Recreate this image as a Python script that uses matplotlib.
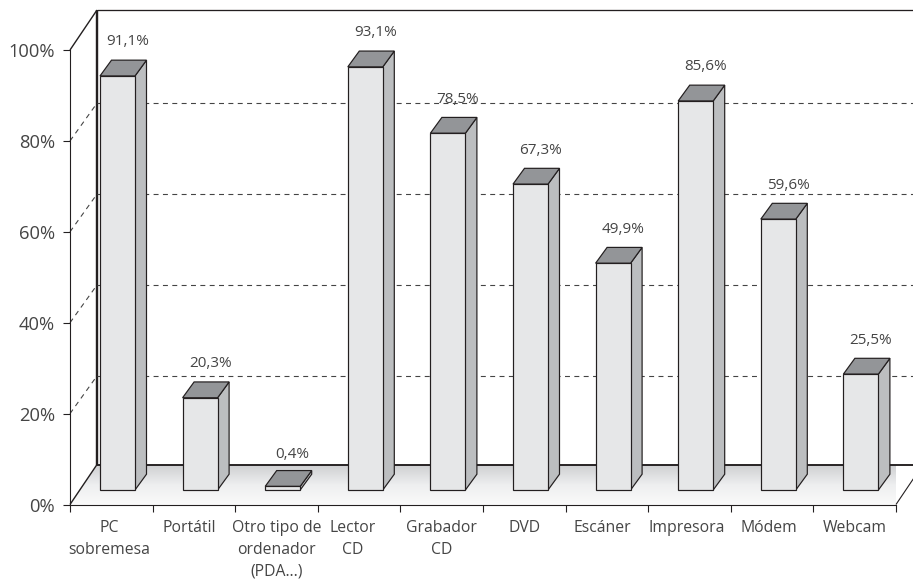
import matplotlib
matplotlib.use("Agg")
import matplotlib.pyplot as plt
import numpy as np
from matplotlib.patches import Polygon
from matplotlib.ticker import FixedLocator, FixedFormatter, FuncFormatter

categories = ["PC\nsobremesa", "Portátil", "Otro tipo de\nordenador\n(PDA…)", "Lector\nCD", "Grabador\nCD",
              "DVD", "Escáner", "Impresora", "Módem", "Webcam"]
values = [91.1, 20.3, 0.4, 93.1, 78.5, 67.3, 49.9, 85.6, 59.6, 25.5]
value_labels = ["91,1%", "20,3%", "0,4%", "93,1%", "78,5%", "67,3%", "49,9%", "85,6%", "59,6%", "25,5%"]
y_ticks = [0, 20, 40, 60, 80, 100]
grid_levels = [20, 40, 60, 80]

W, H = 913, 579
X0, X1, Y0, Y1 = 70, 896, 504.5, 50
plt.rcParams["font.family"] = ["Open Sans", "Noto Sans", "DejaVu Sans"]
TXT = "#454545"; INK = "#231f20"
px = 72 / 100

fig = plt.figure(figsize=(W / 100, H / 100), dpi=100, facecolor="white")
ax = fig.add_axes([X0 / W, 1 - Y0 / H, (X1 - X0) / W, (Y0 - Y1) / H])
ax.set_facecolor("none")
ux = (X1 - X0) / 10
uy = (Y0 - Y1) / 100
wall_dx, wall_dy = 27 / ux, 40 / uy
grid_dy = 37.7 / uy
bar_off, bar_w = 30 / ux, 35 / ux
bar_dx, bar_dy = 11.5 / ux, 15.8 / uy
base = 14.5 / uy

# floor gradient
floor = Polygon([(0, 0), (10, 0), (10 + wall_dx, wall_dy), (wall_dx, wall_dy)], closed=True,
                transform=ax.transData, fc="none", ec="none")
ax.add_patch(floor)
grad = np.linspace(0, 1, 64).reshape(-1, 1)
cm = matplotlib.colors.LinearSegmentedColormap.from_list("f", ["#fafafa", "#eeeff0", "#cfd0d2"])
im = ax.imshow(grad, origin="lower", extent=[0, 10.5, 0, wall_dy], aspect="auto", cmap=cm, zorder=1)
im.set_clip_path(floor)
im.set_clip_on(True)

# walls
lk = dict(clip_on=False, solid_capstyle="butt")
ax.plot([0, wall_dx], [0, wall_dy], color=INK, lw=1.4 * px, zorder=2, **lk)
ax.plot([0, wall_dx], [100, 100 + wall_dy], color=INK, lw=1.4 * px, zorder=2, **lk)
ax.plot([wall_dx, wall_dx], [wall_dy, 100 + wall_dy], color=INK, lw=2.4 * px, zorder=2, **lk)
ax.plot([wall_dx, 10.4], [100 + wall_dy] * 2, color=INK, lw=1.3 * px, zorder=2, **lk)
ax.plot([wall_dx, 10.4], [wall_dy] * 2, color=INK, lw=1.9 * px, zorder=2, **lk)
ax.plot([10, 10 + wall_dx], [0, wall_dy], color=INK, lw=1.1 * px, zorder=2, **lk)

# grid
dash = dict(color="#444444", lw=1.1 * px, dashes=(4.5, 4), clip_on=False, zorder=2)
for g in grid_levels:
    ax.plot([0, wall_dx], [g, g + grid_dy], **dash)
    ax.plot([wall_dx, 10.4], [g + grid_dy] * 2, **dash)

# bars
edge = dict(ec=INK, lw=1.2 * px, joinstyle="miter", clip_on=False, zorder=3)
for i, (v, lab) in enumerate(zip(values, value_labels)):
    l, r = i + bar_off, i + bar_off + bar_w
    b = base
    t = base + max(v, 0.8)
    ax.add_patch(Polygon([(r, b), (r + bar_dx, b + bar_dy), (r + bar_dx, t + bar_dy), (r, t)], fc="#bcbec0", **edge))
    ax.add_patch(Polygon([(l, t), (r, t), (r + bar_dx, t + bar_dy), (l + bar_dx, t + bar_dy)], fc="#939598", **edge))
    ax.add_patch(Polygon([(l, b), (r, b), (r, t), (l, t)], fc="#e6e7e8", **edge))
    ax.text(l + 27.5 / ux, base + v + 34 / uy, lab, ha="center", va="center", fontsize=11,
            color=TXT, clip_on=False, zorder=5)

ax.set_xlim(0, 10)
ax.set_ylim(0, 100)
for s in ("top", "right"):
    ax.spines[s].set_visible(False)
for s in ("left", "bottom"):
    ax.spines[s].set_color(INK)
    ax.spines[s].set_linewidth(1.1 * px)
    ax.spines[s].set_zorder(4)

ax.set_yticks(y_ticks)
ax.yaxis.set_major_formatter(FuncFormatter(lambda v, _: f"{v:.0f}%"))
ax.tick_params(axis="y", length=7 * px, width=1.1 * px, color=INK, labelsize=13.2, labelcolor=TXT, pad=8 * px)
ax.set_xticks(range(11))
ax.set_xticklabels([])
ax.tick_params(axis="x", which="major", length=7 * px, width=1.1 * px, color=INK)
label_pos = [0.48, 1.44, 2.5, 3.42, 4.5, 5.5, 6.44, 7.47, 8.46, 9.5]
ax.xaxis.set_minor_locator(FixedLocator(label_pos))
ax.xaxis.set_minor_formatter(FixedFormatter(categories))
ax.tick_params(axis="x", which="minor", length=0, labelsize=11.3, labelcolor=TXT, pad=15 * px)
for t in ax.xaxis.get_minorticklabels():
    t.set_linespacing(1.5)
    t.set_ha("center")

fig.savefig("out.png", dpi=100)
